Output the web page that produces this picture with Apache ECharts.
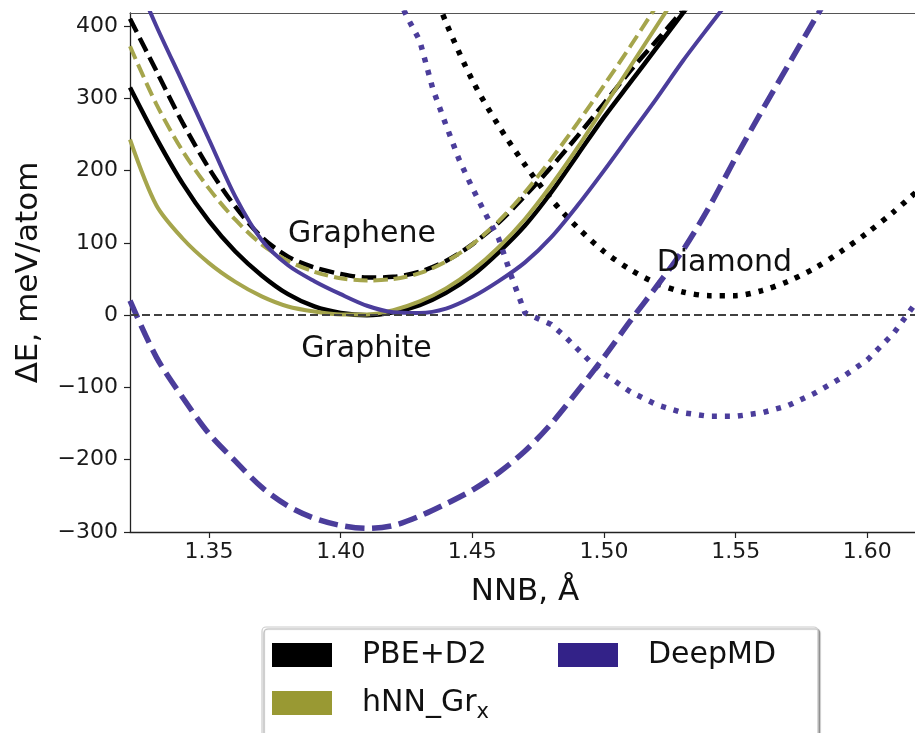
<!DOCTYPE html>
<html><head><meta charset="utf-8">
<script src="https://cdn.jsdelivr.net/npm/echarts@6/dist/echarts.min.js"></script>
<style>html,body{margin:0;padding:0;background:#fff}#c{width:915px;height:733px}</style>
</head><body><div id="c"></div>
<script>
// NNB grid (Å) for graphite / graphene curves
const nnb = [1.32,1.33,1.34,1.35,1.36,1.37,1.38,1.39,1.40,1.41,1.42,1.43,1.44,1.45,1.46,1.47,1.48,1.49,1.50,1.51,1.52,1.53,1.54,1.55,1.56,1.57,1.58,1.59];
const pbeGraphite = [315,245,182,130,88,55,29,12,3,0,4,14,31,55,87,124,170,222,274,322,370,418,466,null,null,null,null,null];
const pbeGraphene = [410,338,266,203,150,108,81,66,57,52,53,60,75,98,128,165,205,248,293,338,380,422,465,null,null,null,null,null];
const hnnGraphite = [243,152,106,72,46,26,12,5,1,1,7,19,37,62,94,133,180,232,288,344,400,456,null,null,null,null,null,null];
const hnnGraphene = [372,292,227,175,132,98,75,60,51,48,50,58,74,98,130,170,216,266,318,372,428,null,null,null,null,null,null,null];
const dmdGraphite = [485,400,322,243,164,104,69,47,29,13,4,3,9,25,47,73,108,152,200,250,300,352,400,447,null,null,null,null];
const dmdGraphene = [20,-58,-114,-164,-202,-238,-264,-281,-291,-295,-291,-278,-261,-242,-218,-188,-150,-105,-58,-8,40,90,150,218,283,346,409,470];
// diamond curves
const nnbPbeDiamond = [1.43,1.44,1.45,1.46,1.47,1.48,1.49,1.50,1.51,1.52,1.53,1.54,1.55,1.56,1.57,1.58,1.59,1.60,1.61,1.62];
const pbeDiamond = [500,405,325,262,208,160,121,88,63,44,32,27,27,34,47,65,88,114,143,175];
const nnbDmdDiamond = [1.42,1.425,1.43,1.435,1.44,1.445,1.45,1.455,1.46,1.465,1.47,1.475,1.48,1.485,1.49,1.495,1.50,1.51,1.52,1.53,1.54,1.55,1.56,1.57,1.58,1.59,1.60,1.61,1.62];
const dmdDiamond = [455,414,380,313,263,215,176,140,106,52,3,-5,-13,-29,-47,-65,-81,-106,-124,-135,-140,-140,-135,-125,-108,-87,-62,-25,25];
// ticks
const xTicks = [1.35,1.40,1.45,1.50,1.55,1.60];
const yTicks = [-300,-200,-100,0,100,200,300,400];
// phase annotations [NNB, ΔE, text]
const annotations = [[1.38,100,'Graphene'],[1.385,-60,'Graphite'],[1.52,60,'Diamond']];
const legendCol1 = ['PBE+D2','hNN_Grx'];
const legendCol2 = ['DeepMD'];

const FONT = 'DejaVu Sans';
const C = {pbe:'#000000', hnn:'#a5a54c', dmd:'#4b3d9b'};
const LEG = {'PBE+D2':'#000000','DeepMD':'#332288','hNN_Grx':'#999933'};

function pairs(xs, ys){ const out=[]; xs.forEach((x,i)=>{ if(ys[i]!==null) out.push([x,ys[i]]); }); return out; }
function line(name, xs, ys, color, width, type, smooth){
  return {type:'line', name, data:pairs(xs,ys), symbol:'none', showSymbol:false, smooth: smooth,
    lineStyle:{color, width, type, cap:'butt'}, itemStyle:{color}, silent:true, clip:true, z:2};
}

const chart = echarts.init(document.getElementById('c'), null, {renderer:'canvas'});
const series = [
  line('PBE+D2', nnb, pbeGraphite, C.pbe, 4.5, 'solid', 0.3),
  line('PBE+D2', nnb, pbeGraphene, C.pbe, 4.5, [15,6.5], 0.3),
  line('PBE+D2', nnbPbeDiamond, pbeDiamond, C.pbe, 5.5, [5,8], 0.3),
  line('hNN_Grx', nnb, hnnGraphite, C.hnn, 4, 'solid', 0.3),
  line('hNN_Grx', nnb, hnnGraphene, C.hnn, 4, [14,6], 0.3),
  line('DeepMD', nnb, dmdGraphite, C.dmd, 4, 'solid', 0.3),
  line('DeepMD', nnb, dmdGraphene, C.dmd, 5.5, [19,8], 0.3),
  line('DeepMD', nnbDmdDiamond, dmdDiamond, C.dmd, 5.5, [5,8], false)
];
series[7].markLine = {silent:true, symbol:'none', animation:false,
  label:{show:false}, lineStyle:{color:'#404040', width:2, type:[8,4]}, emphasis:{disabled:true},
  data:[{yAxis:0}]};
series.push({type:'scatter', name:'labels', data:annotations, symbolSize:0, silent:true, z:10,
  itemStyle:{color:'#111111'},
  label:{show:true, position:'right', distance:0, formatter:p=>p.value[2], fontSize:30, fontFamily:FONT, color:'#111111', opacity:1, offset:[0,-9]}});

const legendText = {fontSize:30, color:'#111', fontFamily:FONT, padding:[0,0,0,25],
  rich:{b:{fontSize:30, lineHeight:30, padding:[5,0,5,0], fontFamily:FONT, color:'#111'},
        s:{fontSize:21, lineHeight:21, padding:[19,0,0,0], fontFamily:FONT, color:'#111'}}};
const legendFmt = n => n==='hNN_Grx' ? '{b|hNN_Gr}{s|x}' : n;
const legendData = names => names.map(n=>({name:n, itemStyle:{color:LEG[n], borderWidth:0}}));

chart.setOption({
  animation:false,
  textStyle:{fontFamily:FONT},
  grid:{left:130, top:13, right:-5, bottom:201, outerBoundsMode:'none', containLabel:false},
  xAxis:[{type:'value', min:1.32, max:1.62, position:'bottom',
    axisLine:{show:true, onZero:false, lineStyle:{color:'#222', width:1.3}},
    axisTick:{show:true, length:6, inside:false, customValues:xTicks, lineStyle:{color:'#222', width:1.2}},
    axisLabel:{customValues:xTicks, formatter:v=>Number(v).toFixed(2), fontSize:22, color:'#1a1a1a', margin:9, fontFamily:FONT},
    splitLine:{show:false},
    name:'NNB, Å', nameLocation:'middle', nameGap:44, nameTextStyle:{fontSize:31, color:'#111', fontFamily:FONT}},
   {type:'value', min:1.32, max:1.62, position:'top',
    axisLine:{show:true, onZero:false, lineStyle:{color:'#555', width:1.2}},
    axisTick:{show:false}, axisLabel:{show:false}, splitLine:{show:false}}],
  yAxis:{type:'value', min:-300, max:418,
    axisLine:{show:true, onZero:false, lineStyle:{color:'#222', width:1.3}},
    axisTick:{show:true, length:6, customValues:yTicks, lineStyle:{color:'#222', width:1.2}},
    axisLabel:{customValues:yTicks, formatter:v=>v<0?'\u2212'+Math.abs(v):String(v), fontSize:22, color:'#1a1a1a', margin:12, fontFamily:FONT},
    splitLine:{show:false},
    name:'ΔE, meV/atom', nameLocation:'middle', nameGap:86, nameRotate:90, nameTextStyle:{fontSize:31, color:'#111', fontFamily:FONT}},
  legend:[
    {show:true, left:262, top:627, height:120, orient:'vertical', selectedMode:false, z:4,
     data:legendData(legendCol1), icon:'rect', itemWidth:60, itemHeight:24, itemGap:13,
     padding:[13,329,15,10], backgroundColor:'#fff', borderColor:'#cccccc', borderWidth:1.2, borderRadius:4,
     shadowColor:'rgba(0,0,0,0.35)', shadowOffsetX:2, shadowOffsetY:2, shadowBlur:1,
     formatter:legendFmt, textStyle:legendText},
    {show:true, left:558, top:640, orient:'vertical', selectedMode:false, z:6,
     data:legendData(legendCol2), icon:'rect', itemWidth:60, itemHeight:24, itemGap:13,
     padding:0, backgroundColor:'transparent', borderWidth:0,
     formatter:legendFmt, textStyle:legendText}
  ],
  tooltip:{show:false},
  series
});
</script></body></html>
